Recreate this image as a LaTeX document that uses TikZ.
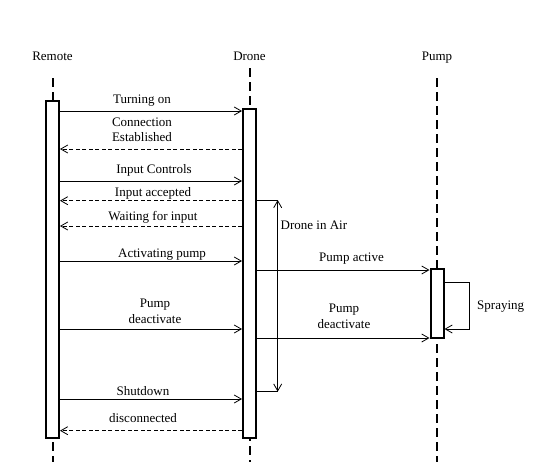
\documentclass[tikz,border=0pt]{standalone}
\usepackage{fontspec}
\setmainfont{Liberation Serif}
\usetikzlibrary{arrows.meta}

\begin{document}
\begin{tikzpicture}[x=1pt, y=-1pt,
  every node/.style={font=\fontsize{13}{15.5}\selectfont},
  head/.style={anchor=base, inner sep=0pt},
  actbox/.style={draw, line width=2pt, fill=white, minimum width=13pt, inner sep=0pt},
  lifeline/.style={line width=2pt, dash pattern=on 9pt off 5pt},
  call/.style={line width=0.8pt, -{Straight Barb[length=7pt,width=8pt]}},
  reply/.style={call, dash pattern=on 4pt off 2.5pt},
  msglabel/.style={anchor=south, align=center, inner sep=0pt, text depth=0pt},
]
\useasboundingbox (0,0) rectangle (541,471);

% participants
\node[head] (rhead) at (52.5,60) {Remote};
\node[head] (dhead) at (249.5,60) {Drone};
\node[head] (phead) at (437,60) {Pump};
\foreach \n/\top in {rhead/78, dhead/68, phead/78} {
  \draw[lifeline] (\n.south |- 0,\top) -- (\n.south |- 0,462);
}

% activation boxes
\node[actbox, minimum height=337pt] (rbox) at (52.5,269.2) {};
\node[actbox, minimum height=328.4pt] (dbox) at (249.5,273.5) {};
\node[actbox, minimum height=68.7pt] (pbox) at (437,303.4) {};

% Remote -> Drone (y / label x / label baseline gap / text)
\foreach \y/\lx/\gap/\txt in {%
  111/142/7.7/{Turning on},
  181/154/7.7/{Input Controls},
  261/162/3.7/{Activating pump},
  329/155/5.7/{Pump\\deactivate},
  399/143/3.3/{Shutdown}%
} {
  \draw[call] (rbox.east |- 0,\y) -- (dbox.west |- 0,\y);
  \node[msglabel] (call\y) at (\lx,\y-\gap) {\txt};
}
% Drone -> Remote (returns)
\foreach \y/\lx/\gap/\txt in {%
  149/142/7.3/{Connection\\Established},
  200.7/153/4/{Input accepted},
  226/153/5/{Waiting for input},
  430.7/143/8/{disconnected}%
} {
  \draw[reply] (dbox.west |- 0,\y) -- (rbox.east |- 0,\y);
  \node[msglabel] (ret\y) at (\lx,\y-\gap) {\txt};
}
% Drone -> Pump
\foreach \y/\lx/\gap/\txt in {%
  270/351.5/8/{Pump active},
  338/344/9.7/{Pump\\deactivate}%
} {
  \draw[call] (dbox.east |- 0,\y) -- (pbox.west |- 0,\y);
  \node[msglabel] (pmsg\y) at (\lx,\y-\gap) {\txt};
}

% Drone in Air span
\coordinate (airtop) at (277.7,200);
\coordinate (airbot) at (277.7,391.7);
\draw[line width=0.8pt] (dbox.east |- airtop) -- (airtop);
\draw[line width=0.8pt] (dbox.east |- airbot) -- (airbot);
\draw[line width=0.8pt, {Straight Barb[length=7pt,width=8pt]}-{Straight Barb[length=7pt,width=8pt]}] (airtop) -- (airbot);
\node[anchor=base west, inner sep=0pt] (air) at (280.5,229) {Drone in Air};

% self call on Pump
\coordinate (spraya) at (469,282);
\coordinate (sprayb) at (469,329);
\draw[call] (pbox.east |- spraya) -- (spraya) -- (sprayb) -- (pbox.east |- sprayb);
\node[anchor=base west, inner sep=0pt] (spray) at (477,309.3) {Spraying};
\end{tikzpicture}
\end{document}
